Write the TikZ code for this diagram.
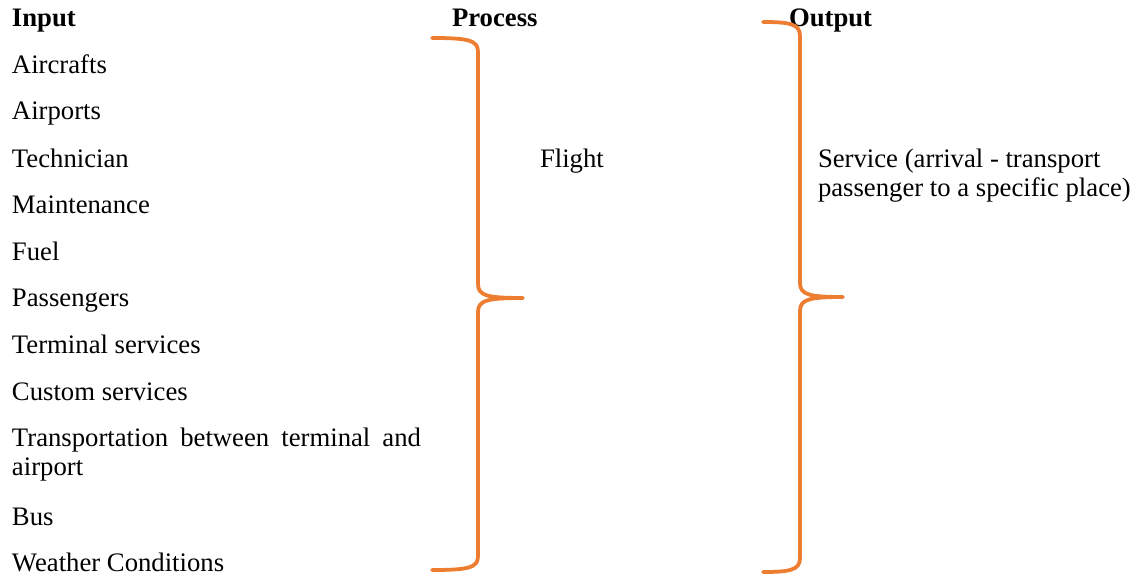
\documentclass[tikz,border=0pt]{standalone}
\usepackage{fontspec}
\setmainfont{Liberation Serif}
\definecolor{braceorange}{HTML}{ED7D31}
\begin{document}
\begin{tikzpicture}[x=1pt,y=-1pt,
  every node/.style={inner sep=0pt,outer sep=0pt,font=\fontsize{26.7}{29}\selectfont},
  item/.style={anchor=base west},
  head/.style={anchor=base west,font=\fontsize{26.7}{29}\selectfont\bfseries},
  bracecurve/.style={draw=braceorange,line width=3.8pt,line cap=round,line join=round}]
\useasboundingbox (0,0) rectangle (1136,578);

% column headings
\node[head] (hin)  at (12,27) {Input};
\node[head] (hpro) at (452,27) {Process};
\node[head] (hout) at (789,27) {Output};

% input list
\node[item] (i1)  at (12,74)  {Aircrafts};
\node[item] (i2)  at (12,120) {Airports};
\node[item] (i3)  at (12,167) {Technician};
\node[item] (i4)  at (12,213) {Maintenance};
\node[item] (i5)  at (12,260) {Fuel};
\node[item] (i6)  at (12,306) {Passengers};
\node[item] (i7)  at (12,353) {Terminal services};
\node[item] (i8)  at (12,400) {Custom services};
\node[anchor=north west,text width=409pt,align=justify] (i9) at (12,428)
  {Transportation between terminal and airport};
\node[item] (i10) at (12,525) {Bus};
\node[item] (i11) at (12,571) {Weather Conditions};

% process and output
\node[item] (proc) at (540,167) {Flight};
\node[item] (out1) at (818,167) {Service (arrival - transport};
\node[item] (out2) at (818,196) {passenger to a specific place)};

% right braces
\coordinate (pt) at (432,38);
\coordinate (pm) at (523,298);
\coordinate (pb) at (432,570);
\draw[bracecurve] (pt) .. controls (468,38) and (478,40) .. (478,52)
  -- (478,284) .. controls (478,296) and (488,298) .. (pm)
  .. controls (488,298) and (478,300) .. (478,312)
  -- (478,556) .. controls (478,568) and (468,570) .. (pb);

\coordinate (ot) at (763,22);
\coordinate (om) at (843,297);
\coordinate (ob) at (763,572);
\draw[bracecurve] (ot) .. controls (790,22) and (800,24) .. (800,36)
  -- (800,283) .. controls (800,295) and (810,297) .. (om)
  .. controls (810,297) and (800,299) .. (800,311)
  -- (800,558) .. controls (800,570) and (790,572) .. (ob);
\end{tikzpicture}
\end{document}
